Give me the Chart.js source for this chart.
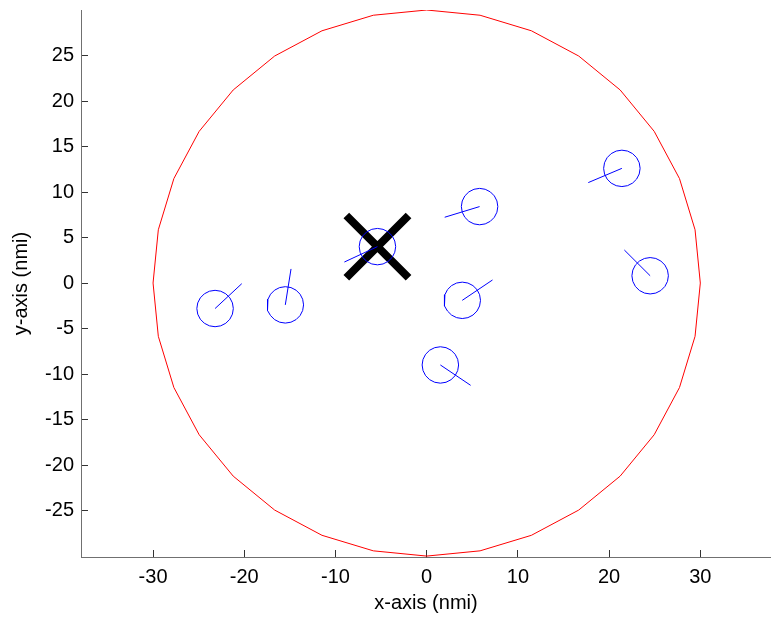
<!DOCTYPE html>
<html>
<head>
<meta charset="utf-8">
<title>Targets inside range ring</title>
<script src="https://cdn.jsdelivr.net/npm/chart.js@4.4.0/dist/chart.umd.min.js"></script>
<style>
  html, body { margin: 0; padding: 0; background: #fff; }
  #wrap { width: 771px; height: 619px; }
</style>
</head>
<body>
<div id="wrap"><canvas id="plot" width="771" height="619"></canvas></div>
<script>
// range ring and target positions, all in nautical miles
const ringRadius = 30;
const targetRadius = 2;
const headingLength = 4;

const targetX = [-23.2, -15.5, -5.4, 5.8, 21.4, 24.5, 3.9, 1.5];
const targetY = [-2.8, -2.4, 4.0, 8.4, 12.6, 0.8, -1.9, -9.0];
// course over ground, degrees clockwise from north
const targetHeading = [47, 9, 245, 253, 247, 315, 56, 124];

// the target picked out with the big cross
const selectedTarget = 2;

const xTicks = [-30, -20, -10, 0, 10, 20, 30];
const yTicks = [-25, -20, -15, -10, -5, 0, 5, 10, 15, 20, 25];

const fontFamily = '"Liberation Sans", Arial, Helvetica, sans-serif';

function circlePoints(cx, cy, r, n) {
    const pts = [];
    for (let k = 0; k <= n; k++) {
        const a = (k / n) * 2 * Math.PI;
        pts.push({ x: cx + r * Math.cos(a), y: cy + r * Math.sin(a) });
    }
    return pts;
}

function headingPoints(cx, cy, deg) {
    const a = deg * Math.PI / 180;
    return [
        { x: cx, y: cy },
        { x: cx + headingLength * Math.sin(a), y: cy + headingLength * Math.cos(a) }
    ];
}

// fixed axis box; no extra room for the label overhang
function fixAxis(size) {
    return function (scale) {
        if (scale.isHorizontal()) scale.height = size;
        else scale.width = size;
        scale.paddingTop = 0;
        scale.paddingBottom = 0;
        scale.paddingLeft = 0;
        scale.paddingRight = 0;
    };
}

const lineStyle = {
    showLine: true,
    fill: false,
    pointRadius: 0,
    borderWidth: 1
};

const datasets = [];

datasets.push(Object.assign({
    label: 'ring',
    data: circlePoints(0, 0, ringRadius, 32),
    borderColor: '#ff0000'
}, lineStyle));

for (let i = 0; i < targetX.length; i++) {
    datasets.push(Object.assign({
        label: 'target ' + (i + 1),
        data: circlePoints(targetX[i], targetY[i], targetRadius, 20),
        borderColor: '#0000ff'
    }, lineStyle));
    datasets.push(Object.assign({
        label: 'heading ' + (i + 1),
        data: headingPoints(targetX[i], targetY[i], targetHeading[i]),
        borderColor: '#0000ff'
    }, lineStyle));
}

datasets.push({
    label: 'selected',
    data: [{ x: targetX[selectedTarget], y: targetY[selectedTarget] }],
    showLine: false,
    pointStyle: 'crossRot',
    pointRadius: 44,
    pointBorderWidth: 8,
    pointBorderColor: '#000000',
    pointBackgroundColor: '#000000'
});

const tickFont = { family: fontFamily, size: 20 };

const ctx = document.getElementById('plot').getContext('2d');
const chart = new Chart(ctx, {
    type: 'scatter',
    data: { datasets: datasets },
    options: {
        responsive: false,
        animation: false,
        events: [],
        devicePixelRatio: 1,
        layout: {
            autoPadding: false,
            padding: { top: 10, right: 0, bottom: 0, left: 0 }
        },
        plugins: {
            legend: { display: false },
            tooltip: { enabled: false }
        },
        scales: {
            x: {
                type: 'linear',
                position: 'bottom',
                min: -37.9,
                max: 37.75,
                afterBuildTicks: function (scale) {
                    scale.ticks = xTicks.map(v => ({ value: v }));
                },
                afterFit: fixAxis(62),
                grid: {
                    drawOnChartArea: false,
                    tickLength: -7,
                    tickColor: '#333333',
                    tickWidth: 1
                },
                border: { color: '#707070', width: 1 },
                ticks: {
                    color: '#000000',
                    font: tickFont,
                    padding: 15,
                    maxRotation: 0,
                    autoSkip: false
                },
                title: {
                    display: true,
                    text: 'x-axis (nmi)',
                    color: '#000000',
                    font: tickFont,
                    padding: { top: 0, bottom: 4 }
                }
            },
            y: {
                type: 'linear',
                position: 'left',
                min: -30.1,
                max: 30,
                afterBuildTicks: function (scale) {
                    scale.ticks = yTicks.map(v => ({ value: v }));
                },
                afterFit: fixAxis(81),
                grid: {
                    drawOnChartArea: false,
                    tickLength: -7,
                    tickColor: '#333333',
                    tickWidth: 1
                },
                border: { color: '#707070', width: 1 },
                ticks: {
                    color: '#000000',
                    font: tickFont,
                    padding: 14,
                    autoSkip: false
                },
                title: {
                    display: true,
                    text: 'y-axis (nmi)',
                    color: '#000000',
                    font: tickFont,
                    padding: { top: 9, bottom: 0 }
                }
            }
        }
    }
});
</script>
</body>
</html>
